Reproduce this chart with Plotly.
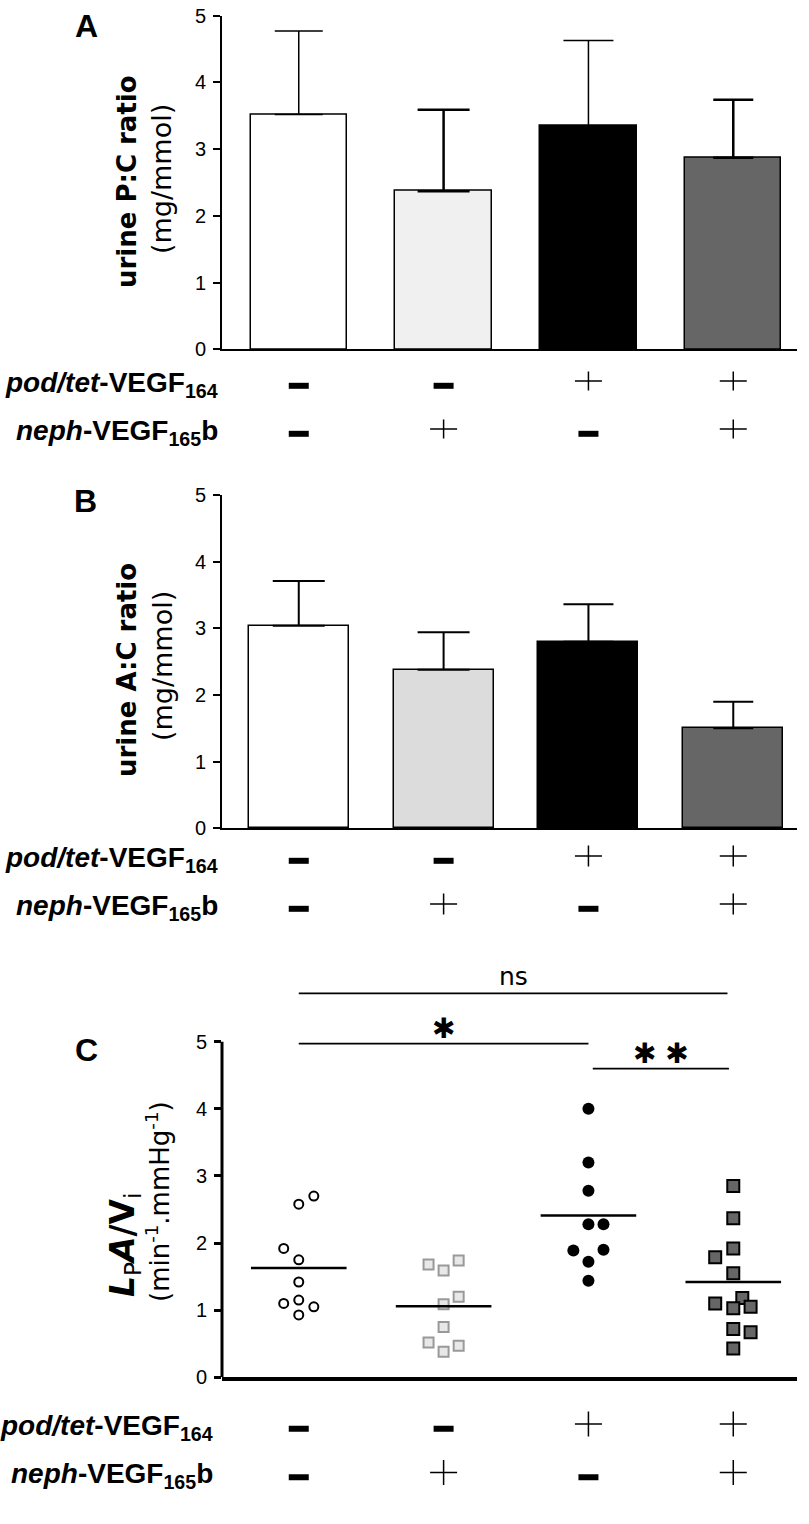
import plotly.graph_objects as go

W, H = 809, 1524

# ---------------- data ----------------
groups = [0, 1, 2, 3]

pc_ratio_mean = [3.52, 2.37, 3.35, 2.87]
pc_ratio_err = [1.25, 1.22, 1.28, 0.87]
ac_ratio_mean = [3.04, 2.38, 2.80, 1.50]
ac_ratio_err = [0.67, 0.56, 0.56, 0.40]

pod_tet_vegf164 = ['-', '-', '+', '+']
neph_vegf165b = ['-', '+', '-', '+']

lpa_ctrl = [2.58, 2.70, 1.92, 1.75, 1.42, 1.10, 1.15, 1.05, 0.93]
lpa_neph = [1.68, 1.59, 1.74, 1.09, 1.20, 0.75, 0.52, 0.38, 0.47]
lpa_pod = [4.00, 3.20, 2.78, 2.28, 2.28, 1.89, 1.90, 1.72, 1.44]
lpa_podneph = [2.85, 2.37, 1.92, 1.79, 1.55, 1.10, 1.18, 1.03, 1.05, 0.72, 0.67, 0.43]
lpa_means = [1.63, 1.06, 2.41, 1.42]

# horizontal slot of each point in the scatter
slot_ctrl = [0, 1, -1, 0, 0, -1, 0, 1, 0]
slot_neph = [-1, 0, 1, 0, 1, 0, -1, 0, 1]
slot_pod = [0, 0, 0, 0, 1, -1, 1, 0, 0]
slot_podneph = [0, 0, 0, -1.2, 0, -1.2, 0.6, 0, 1.15, 0, 1.15, 0]

sig_from = [0, 0, 2.03]
sig_to = [2.96, 2.0, 2.97]
sig_level = [5.72, 4.97, 4.60]
sig_text = ['ns', '\u2731', '\u2731\u00a0\u2731']

# ---------------- helpers ----------------
def px_x(p):
    return p / W


def px_y(p):
    return 1 - p / H


XDOM = [px_x(222), px_x(797)]
XR = [-0.53, 3.44]
TICKFONT = dict(family='Liberation Sans, Arial, sans-serif', size=20, color='black')
LABFONT = dict(family='Liberation Sans, Arial, sans-serif', size=28, color='black')
TITLEFONT = 'DejaVu Sans, Verdana, sans-serif'

fig = go.Figure()
annotations = []
shapes = []
layout_axes = {}

panels = [
    dict(letter='A', n=1, means=pc_ratio_mean, errs=pc_ratio_err,
         colors=['#ffffff', '#f0f0f0', '#000000', '#666666'], bw=0.665,
         eth=[1.5, 2.5, 1.5, 2.5], ew=[24, 26, 25, 20],
         top=15.7, bot=349.3, rows=(381, 429), plus_h=19,
         letter_pos=(86, 26), t1='urine P:C ratio', t2='(mg/mmol)',
         t1pos=(127, 182), t2pos=(162, 179)),
    dict(letter='B', n=3, means=ac_ratio_mean, errs=ac_ratio_err,
         colors=['#ffffff', '#dcdcdc', '#000000', '#666666'], bw=0.69,
         eth=[2, 2, 2, 2], ew=[26, 26, 25, 20],
         top=495, bot=828.3, rows=(856, 904), plus_h=21,
         letter_pos=(85, 501), t1='urine A:C ratio', t2='(mg/mmol)',
         t1pos=(127, 670), t2pos=(162, 666)),
]

for p in panels:
    n = p['n']
    xa, ya = ('x' if n == 1 else f'x{n}'), ('y' if n == 1 else f'y{n}')
    for i, g in enumerate(groups):
        fig.add_trace(go.Bar(
            x=[g], y=[p['means'][i]], width=p['bw'], xaxis=xa, yaxis=ya,
            marker=dict(color=p['colors'][i], line=dict(color='black', width=1.5)),
            error_y=dict(type='data', symmetric=False, array=[p['errs'][i]], arrayminus=[0],
                         color='black', thickness=p['eth'][i], width=p['ew'][i]),
            showlegend=False, hoverinfo='skip'))
    k = '' if n == 1 else str(n)
    layout_axes[f'xaxis{k}'] = dict(domain=XDOM, range=XR, anchor=ya, showline=True,
                                    linewidth=2, linecolor='black', ticks='', showticklabels=False,
                                    showgrid=False, zeroline=False, automargin=False)
    layout_axes[f'yaxis{k}'] = dict(domain=[px_y(p['bot']), px_y(p['top'])], range=[0, 5], anchor=xa,
                                    showline=True, linewidth=2, linecolor='black', ticks='outside',
                                    ticklen=7, tickwidth=2, tickcolor='black', tickvals=[0, 1, 2, 3, 4, 5],
                                    ticklabelstandoff=3, automargin=False,
                                    tickfont=TICKFONT, showgrid=False, zeroline=False)
    annotations.append(dict(text='<b>%s</b>' % p['letter'], xref='paper', yref='paper',
                            x=px_x(p['letter_pos'][0]), y=px_y(p['letter_pos'][1]),
                            xanchor='center', yanchor='middle', showarrow=False,
                            font=dict(family='Liberation Sans, Arial', size=32, color='black')))
    annotations.append(dict(text='<b>%s</b>' % p['t1'], xref='paper', yref='paper', textangle=-90,
                            x=px_x(p['t1pos'][0]), y=px_y(p['t1pos'][1]), xanchor='center',
                            yanchor='middle', showarrow=False,
                            font=dict(family=TITLEFONT, size=26, color='black')))
    annotations.append(dict(text=p['t2'], xref='paper', yref='paper', textangle=-90,
                            x=px_x(p['t2pos'][0]), y=px_y(p['t2pos'][1]), xanchor='center',
                            yanchor='middle', showarrow=False,
                            font=dict(family=TITLEFONT, size=27, color='black')))

# ---------------- panel C ----------------
c_sets = [lpa_ctrl, lpa_neph, lpa_pod, lpa_podneph]
c_slots = [slot_ctrl, slot_neph, slot_pod, slot_podneph]
SLOT = 0.104
c_markers = [
    dict(symbol='circle', size=9, color='white', line=dict(color='black', width=2)),
    dict(symbol='square', size=10, color='#e8e8e8', line=dict(color='#999999', width=2)),
    dict(symbol='circle', size=12, color='black', line=dict(color='black', width=0)),
    dict(symbol='square', size=12, color='#666666', line=dict(color='black', width=2)),
]
for g, vals, slots, mk in zip(groups, c_sets, c_slots, c_markers):
    fig.add_trace(go.Scatter(x=[g + s * SLOT for s in slots], y=vals, mode='markers',
                             marker=mk, xaxis='x5', yaxis='y5', showlegend=False,
                             hoverinfo='skip', cliponaxis=False))
mx, my = [], []
for g, m in zip(groups, lpa_means):
    mx += [g - 0.33, g + 0.33, None]
    my += [m, m, None]
fig.add_trace(go.Scatter(x=mx, y=my, mode='lines', line=dict(color='black', width=2.5),
                         xaxis='x5', yaxis='y5', showlegend=False, hoverinfo='skip'))
sx, sy = [], []
for a, b, lv in zip(sig_from, sig_to, sig_level):
    sx += [a, b, None]
    sy += [lv, lv, None]
fig.add_trace(go.Scatter(x=sx, y=sy, mode='lines', line=dict(color='black', width=1.8),
                         xaxis='x5', yaxis='y5', showlegend=False, hoverinfo='skip'))
for a, b, lv, t in zip(sig_from, sig_to, sig_level, sig_text):
    annotations.append(dict(text=t, x=(a + b) / 2, y=lv, xref='x5', yref='y5',
                            xanchor='center', yanchor='bottom', yshift=0 if t == 'ns' else -3,
                            showarrow=False,
                            font=dict(family='DejaVu Sans, Liberation Sans',
                                      size=25 if t == 'ns' else 28, color='black')))

layout_axes['xaxis5'] = dict(domain=XDOM, range=XR, anchor='y5', showline=True, linewidth=3.5,
                             linecolor='black', ticks='', showticklabels=False,
                             showgrid=False, zeroline=False, automargin=False)
C_TOP = 1377.3 - 6.1 * 67.12
layout_axes['yaxis5'] = dict(domain=[px_y(1377.3), px_y(C_TOP)], range=[0, 6.1], anchor='x5',
                             showline=False, ticks='outside', ticklen=7, tickwidth=3,
                             tickcolor='black', tickvals=[0, 1, 2, 3, 4, 5], tickfont=TICKFONT,
                             ticklabelstandoff=3, showgrid=False, zeroline=False, automargin=False)
shapes.append(dict(type='line', xref='x5 domain', yref='y5', x0=0, x1=0, y0=0, y1=5,
                   line=dict(color='black', width=3)))
annotations.append(dict(text='<b>C</b>', xref='paper', yref='paper', x=px_x(86), y=px_y(1050),
                        xanchor='center', yanchor='middle', showarrow=False,
                        font=dict(family='Liberation Sans, Arial', size=32, color='black')))
annotations.append(dict(text='<b><i>L</i></b><sub>P</sub><b><i>A</i>/V</b><sub>i</sub>',
                        xref='paper', yref='paper', textangle=-90,
                        x=px_x(124), y=px_y(1244), xanchor='center', yanchor='middle',
                        showarrow=False, font=dict(family=TITLEFONT, size=33, color='black')))
annotations.append(dict(text='(min<sup>-1</sup>.mmHg<sup>-1</sup>)',
                        xref='paper', yref='paper', textangle=-90,
                        x=px_x(158), y=px_y(1202), xanchor='center', yanchor='middle',
                        showarrow=False, font=dict(family=TITLEFONT, size=26, color='black')))

# ---------------- +/- rows under each panel ----------------
label_axes = [(2, panels[0]['rows'], panels[0]['plus_h']),
              (4, panels[1]['rows'], panels[1]['plus_h']),
              (6, (1424, 1472.5), 25)]
MINUS_DY = 0.1
for n, (r1, r2), plus_h in label_axes:
    sp = r2 - r1
    layout_axes[f'xaxis{n}'] = dict(domain=XDOM, range=XR, anchor=f'y{n}', visible=False,
                                    automargin=False)
    layout_axes[f'yaxis{n}'] = dict(domain=[px_y(r2 + sp / 2), px_y(r1 - sp / 2)],
                                    range=[-0.5, 1.5], anchor=f'x{n}', visible=False,
                                    automargin=False)
    for row, signs in ((1, pod_tet_vegf164), (0, neph_vegf165b)):
        minus_x = [g for g, s in zip(groups, signs) if s == '-']
        plus_x = [g for g, s in zip(groups, signs) if s == '+']
        fig.add_trace(go.Scatter(x=minus_x, y=[row - MINUS_DY] * len(minus_x), mode='markers',
                                 marker=dict(symbol='line-ew', size=20 / 1.4,
                                             line=dict(color='black', width=6)),
                                 xaxis=f'x{n}', yaxis=f'y{n}', showlegend=False, hoverinfo='skip'))
        fig.add_trace(go.Scatter(x=plus_x, y=[row] * len(plus_x), mode='markers',
                                 marker=dict(symbol='line-ew', size=27 / 1.4,
                                             line=dict(color='black', width=1.5)),
                                 xaxis=f'x{n}', yaxis=f'y{n}', showlegend=False, hoverinfo='skip'))
        fig.add_trace(go.Scatter(x=plus_x, y=[row] * len(plus_x), mode='markers',
                                 marker=dict(symbol='line-ns', size=plus_h / 1.4,
                                             line=dict(color='black', width=1.5)),
                                 xaxis=f'x{n}', yaxis=f'y{n}', showlegend=False, hoverinfo='skip'))
    xr_edge = 220 if n != 6 else 215
    annotations.append(dict(text='<b><i>pod/tet</i>-VEGF<sub>164</sub></b>', xref='paper',
                            yref=f'y{n}', x=px_x(xr_edge), y=1, xanchor='right', yanchor='middle',
                            yshift=-3, showarrow=False, font=LABFONT))
    annotations.append(dict(text='<b><i>neph</i>-VEGF<sub>165</sub>b</b>', xref='paper',
                            yref=f'y{n}', x=px_x(xr_edge), y=0, xanchor='right', yanchor='middle',
                            yshift=-3, showarrow=False, font=LABFONT))

fig.update_layout(
    width=W, height=H, margin=dict(l=0, r=0, t=0, b=0, pad=0, autoexpand=False),
    paper_bgcolor='white', plot_bgcolor='white', showlegend=False,
    bargap=0, annotations=annotations, shapes=shapes, **layout_axes)

fig.write_html('out.html', config={'displayModeBar': False},
               post_script="document.body.style.margin='0';document.body.style.overflow='hidden';")
